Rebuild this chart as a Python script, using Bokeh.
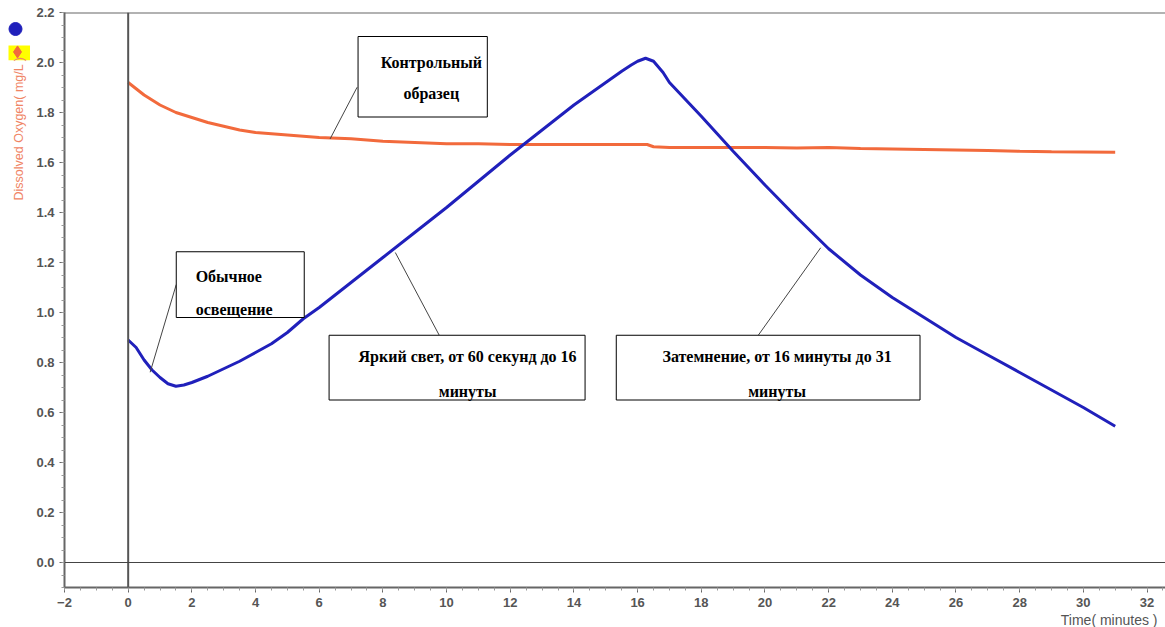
import numpy as np
from bokeh.plotting import figure
from bokeh.layouts import row
from bokeh.models import Range1d, Span, Title, SingleIntervalTicker, CustomJSTickFormatter
from bokeh.core.properties import value
from bokeh.embed import file_html
from bokeh.resources import INLINE

# ---- data ----
blue_t = [0, 0.25, 0.5, 0.75, 1.0, 1.25, 1.5, 1.75, 2, 2.5, 3, 3.5, 4, 4.5, 5, 5.5, 6, 7, 8, 9, 10,
          11, 12, 13, 14, 15, 15.5, 15.8, 16, 16.25, 16.5, 16.8, 17, 18, 19, 20, 21, 22, 23, 24, 25,
          26, 27, 28, 29, 30, 31]
blue_do = [0.89, 0.86, 0.81, 0.77, 0.74, 0.715, 0.705, 0.71, 0.72, 0.745, 0.775, 0.805, 0.84, 0.875,
           0.92, 0.975, 1.02, 1.12, 1.22, 1.32, 1.42, 1.525, 1.63, 1.73, 1.83, 1.92, 1.965, 1.99,
           2.005, 2.017, 2.005, 1.96, 1.92, 1.785, 1.645, 1.51, 1.38, 1.255, 1.15, 1.06, 0.98, 0.90,
           0.83, 0.76, 0.69, 0.62, 0.545]

orange_t = [0, 0.5, 1, 1.5, 2, 2.5, 3, 3.5, 4, 5, 6, 7, 8, 9, 10, 11, 12, 13, 14, 15, 16, 16.3,
            16.5, 17, 18, 19, 20, 21, 22, 23, 24, 25, 26, 27, 28, 29, 30, 31]
orange_do = [1.92, 1.87, 1.83, 1.80, 1.78, 1.76, 1.745, 1.73, 1.72, 1.71, 1.70, 1.695, 1.685, 1.68,
             1.675, 1.675, 1.672, 1.672, 1.672, 1.672, 1.672, 1.672, 1.663, 1.66, 1.66, 1.66, 1.66,
             1.658, 1.66, 1.656, 1.654, 1.652, 1.65, 1.648, 1.645, 1.643, 1.642, 1.641]

# annotation boxes (data units)
box_left = [7.22, 1.51, 6.31, 15.33]
box_right = [11.28, 5.53, 14.35, 24.87]
box_bottom = [1.782, 0.980, 0.650, 0.650]
box_top = [2.104, 1.243, 0.909, 0.909]

# pointer lines
ptr_x0 = [7.19, 1.51, 9.77, 19.79]
ptr_y0 = [1.901, 1.112, 0.909, 0.909]
ptr_x1 = [6.34, 0.69, 8.39, 21.75]
ptr_y1 = [1.694, 0.761, 1.240, 1.259]

ctext = ["Контрольный", "образец", "Яркий свет, от 60 секунд до 16", "минуты",
         "Затемнение, от 16 минуты до 31", "минуты"]
ctext_x = [9.52, 9.52, 10.66, 10.66, 20.38, 20.38]
ctext_y = [2.001, 1.877, 0.825, 0.686, 0.825, 0.686]
ltext = ["Обычное", "освещение"]
ltext_x = [2.12, 2.12]
ltext_y = [1.144, 1.012]

y_label = "Dissolved Oxygen( mg/L )"
x_label = "Time( minutes )"

BLUE = "#2020bb"
ORANGE = "#f26a3c"
GRAY = "#666666"
H = 627

# ---- left strip: series markers and y-axis label ----
side = figure(width=30, height=H, output_backend="svg", toolbar_location=None,
              x_range=Range1d(0, 30), y_range=Range1d(0, H),
              min_border=0, min_border_left=0, min_border_right=0, min_border_top=0,
              min_border_bottom=0)
side.axis.visible = False
side.grid.visible = False
side.outline_line_color = None
side.scatter([15], [H - 18], size=13, marker="circle", fill_color=BLUE, line_color=BLUE)
side.rect([19], [H - 44], width=22, height=16, fill_color="#ffff00", line_color=None)
side.scatter([17], [H - 43], size=12, marker="diamond", fill_color=ORANGE, line_color=ORANGE)
side.text([18], [H - 205], text=[y_label], angle=np.pi / 2, text_align="left",
          text_baseline="middle", text_font=value("Liberation Sans"), text_font_size="12.5px",
          text_color="#f08464")

# ---- main plot ----
p = figure(width=1135, height=H, output_backend="svg", toolbar_location=None,
           x_range=Range1d(-2, 32.58), y_range=Range1d(-0.1, 2.2),
           min_border_left=34, min_border_right=0, min_border_top=12, min_border_bottom=38)
p.grid.visible = False
p.outline_line_color = None

for ax in (p.xaxis[0], p.yaxis[0]):
    ax.axis_line_color = GRAY
    ax.axis_line_width = 2
    ax.major_tick_line_color = GRAY
    ax.minor_tick_line_color = "#999999"
    ax.major_tick_out = 5
    ax.major_tick_in = 0
    ax.minor_tick_out = 3
    ax.minor_tick_in = 0
    ax.major_label_text_color = "#555555"
    ax.major_label_text_font = "Liberation Sans"
    ax.major_label_text_font_style = "bold"
    ax.major_label_text_font_size = "13px"
    ax.major_label_standoff = 5

p.xaxis.ticker = SingleIntervalTicker(interval=2, num_minor_ticks=4)
p.yaxis.ticker = SingleIntervalTicker(interval=0.2, num_minor_ticks=4)
p.yaxis.formatter = CustomJSTickFormatter(code="return tick.toFixed(1);")

p.add_layout(Title(text=x_label, align="right", text_font="Liberation Sans",
                   text_font_size="14px", text_font_style="normal", text_color="#555555",
                   offset=8, standoff=0), "below")

p.add_layout(Span(location=2.2, dimension="width", line_color=GRAY, line_width=2))
p.add_layout(Span(location=0, dimension="height", line_color="#555555", line_width=2))
p.add_layout(Span(location=0, dimension="width", line_color="#444444", line_width=1))

p.line(orange_t, orange_do, line_color=ORANGE, line_width=3)
p.line(blue_t, blue_do, line_color=BLUE, line_width=3)

p.segment(ptr_x0, ptr_y0, ptr_x1, ptr_y1, line_color="#444444", line_width=1)
p.quad(left=box_left, right=box_right, bottom=box_bottom, top=box_top,
       fill_color="white", line_color="black", line_width=1)

p.text(ctext_x, ctext_y, text=ctext, text_align="center", text_baseline="middle",
       text_font=value("Liberation Serif"), text_font_style="bold", text_font_size="16px",
       text_color="black")
p.text(ltext_x, ltext_y, text=ltext, text_align="left", text_baseline="middle",
       text_font=value("Liberation Serif"), text_font_style="bold", text_font_size="16px",
       text_color="black")

layout = row(side, p, spacing=0)
open("out.html", "w").write(file_html(layout, INLINE))
